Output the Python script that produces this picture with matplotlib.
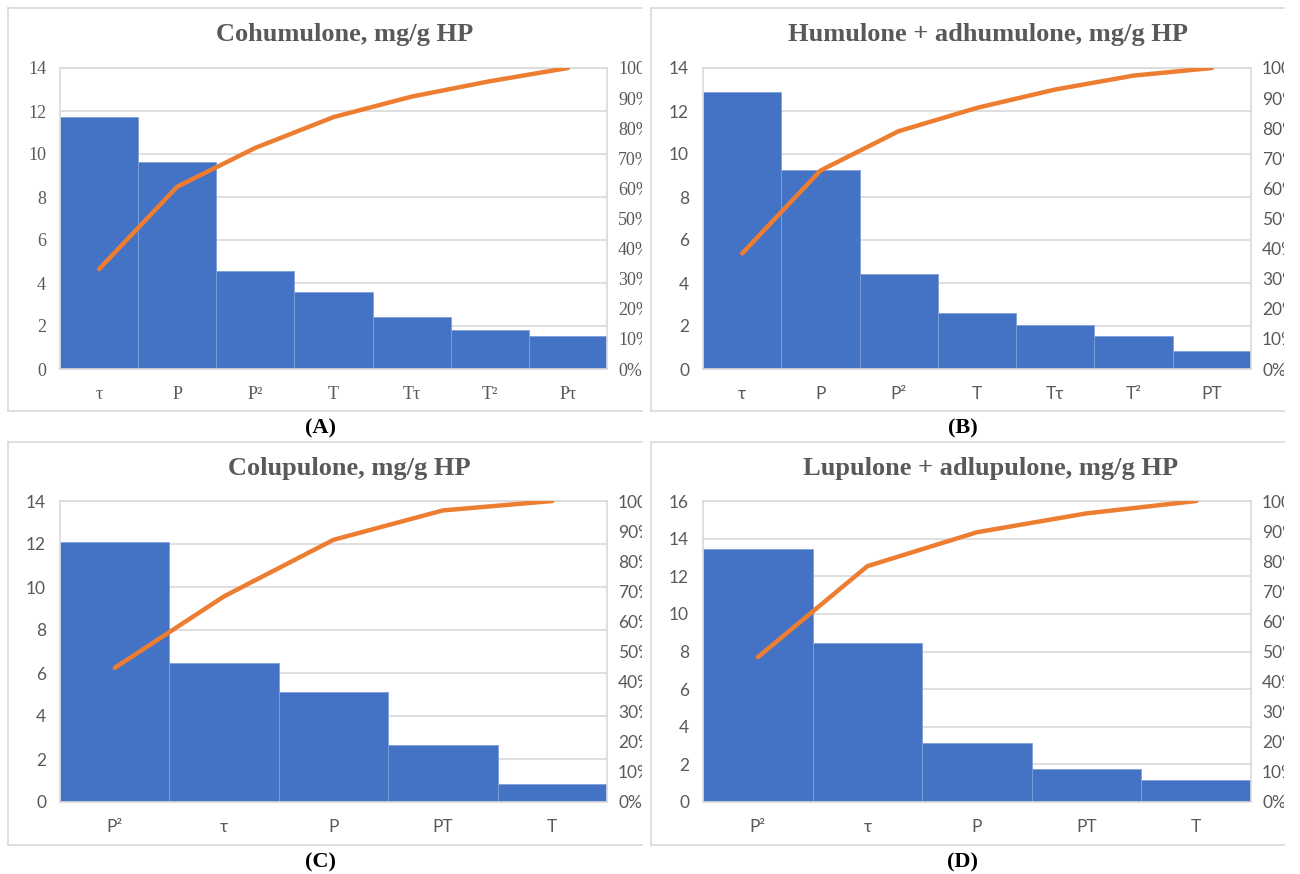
import matplotlib
matplotlib.use("Agg")
import matplotlib.pyplot as plt
import numpy as np
from matplotlib.lines import Line2D
from matplotlib.transforms import Bbox, TransformedBbox

# panel data (mg/g HP)
cats_a = ["τ", "P", "P²", "T", "Tτ", "T²", "Pτ"]
vals_a = [11.7, 9.65, 4.55, 3.6, 2.4, 1.8, 1.55]

cats_b = ["τ", "P", "P²", "T", "Tτ", "T²", "PT"]
vals_b = [12.9, 9.25, 4.4, 2.6, 2.05, 1.55, 0.85]

cats_c = ["P²", "τ", "P", "PT", "T"]
vals_c = [12.1, 6.45, 5.1, 2.65, 0.85]

cats_d = ["P²", "τ", "P", "PT", "T"]
vals_d = [13.45, 8.45, 3.15, 1.75, 1.15]

titles = ["Cohumulone, mg/g HP", "Humulone + adhumulone, mg/g HP",
          "Colupulone, mg/g HP", "Lupulone + adlupulone, mg/g HP"]
letters = ["(A)", "(B)", "(C)", "(D)"]

W, H = 1300, 874
BLUE = "#4472C4"
ORANGE = "#ED7D31"
GRID = "#D9D9D9"
TXT = "#595959"
SERIF = ["Liberation Serif", "DejaVu Serif"]
SANS = ["Lato", "Open Sans", "DejaVu Sans"]

fig = plt.figure(figsize=(W / 100, H / 100), dpi=100)


def px(x0, y0, x1, y1):
    # pixel box (top-left origin) -> figure fractions
    return [x0 / W, 1 - y1 / H, (x1 - x0) / W, (y1 - y0) / H]


def panel(box, plot, cats, vals, ymax, title, letter, fam, title_x):
    bx0, by0, bx1, by1 = box
    # light frame round the chart area (right side runs off)
    for xs, ys in [((bx0, bx1), (by0, by0)), ((bx0, bx0), (by0, by1)),
                   ((bx0, bx1), (by1, by1))]:
        fig.add_artist(Line2D([x / W for x in xs], [1 - y / H for y in ys],
                              color=GRID, lw=1.2))

    size = 13 if fam is SERIF else 12.5
    ax = fig.add_axes(px(*plot))
    x = np.arange(len(cats))
    ax.bar(x, vals, width=1.0, color=BLUE, edgecolor="#7F9FD8", linewidth=0.6,
           zorder=2)
    ax.set_xlim(-0.5, len(cats) - 0.5)
    ax.set_ylim(0, ymax)
    ax.set_yticks(np.arange(0, ymax + 1, 2))
    ax.set_xticks(x)
    ax.set_xticklabels(cats)
    ax.grid(axis="y", color=GRID, lw=1.2, zorder=0)
    ax.set_axisbelow(True)
    for s in ax.spines.values():
        s.set_color(GRID)
        s.set_linewidth(1.2)
    ax.tick_params(length=0, colors=TXT, labelsize=size)
    ax.tick_params(axis="y", pad=10)
    ax.tick_params(axis="x", pad=12)
    for t in ax.get_xticklabels() + ax.get_yticklabels():
        t.set_family(fam)

    cum = np.cumsum(vals) / np.sum(vals)
    ax2 = ax.twinx()
    ax2.plot(x, cum, color=ORANGE, lw=3.2, solid_capstyle="round", zorder=3)
    ax2.set_ylim(0, 1)
    ax2.set_yticks(np.arange(0, 1.01, 0.1))
    ax2.set_yticklabels([f"{v:.0f}%" for v in np.arange(0, 101, 10)])
    ax2.tick_params(length=0, colors=TXT, labelsize=size, pad=8)
    for s in ax2.spines.values():
        s.set_visible(False)
    # the percentage labels run off the chart frame, as in the source
    clip = TransformedBbox(Bbox.from_extents(0, 0, bx1 / W, 1), fig.transFigure)
    for t in ax2.get_yticklabels():
        t.set_family(fam)
        t.set_clip_on(True)
        t.set_clip_box(clip)

    fig.text(title_x / W, 1 - (by0 + 27) / H, title, ha="center", va="center",
             family=SERIF, fontsize=19, fontweight="bold", color=TXT)
    fig.text((bx0 + bx1) / 2 / W - 5 / W, 1 - (by1 + 17) / H, letter,
             ha="center", va="center", family=SERIF, fontsize=16,
             fontweight="bold", color="black")
    return ax2


axes2 = [
    panel((8, 8, 642, 411), (60, 68, 607, 369), cats_a, vals_a, 14,
          titles[0], letters[0], SERIF, 345),
    panel((651, 8, 1284, 411), (703, 68, 1251, 369), cats_b, vals_b, 14,
          titles[1], letters[1], SANS, 988),
    panel((8, 442, 642, 845), (60, 501, 607, 802), cats_c, vals_c, 14,
          titles[2], letters[2], SANS, 349),
    panel((651, 442, 1284, 845), (703, 501, 1251, 802), cats_d, vals_d, 16,
          titles[3], letters[3], SANS, 991),
]

fig.savefig("out.png", dpi=100)
